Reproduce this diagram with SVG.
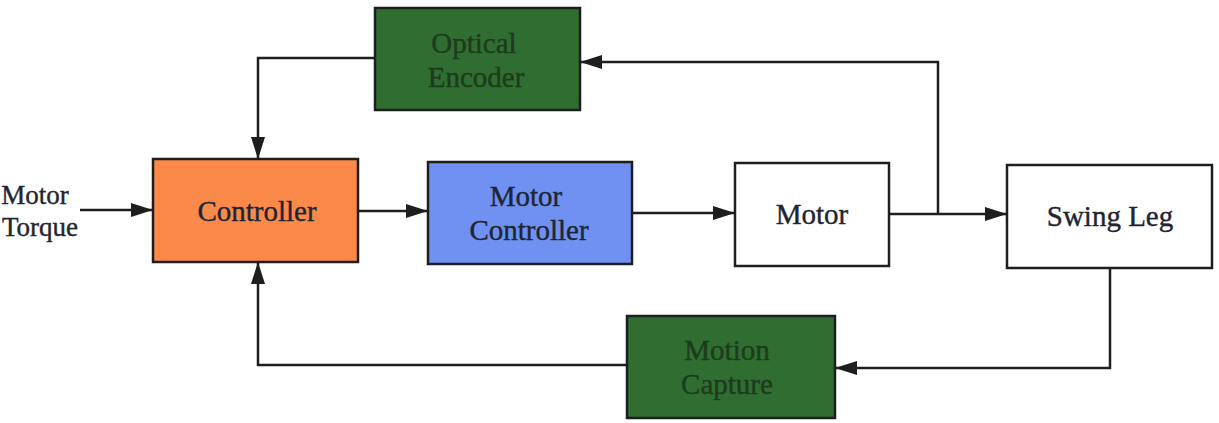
<svg xmlns="http://www.w3.org/2000/svg" width="1219" height="423" viewBox="0 0 1219 423">
<style>
.box{stroke:#1e1e1e;stroke-width:2.5}
.t{font-family:"Liberation Serif","DejaVu Serif",serif;font-size:29px;text-anchor:middle;fill:#1f2633;stroke:#1f2633;stroke-width:0.4}
.s{font-size:27px}
.g{fill:#1d3b1d;stroke:#1d3b1d}
.c{fill:none;stroke:#1e1e1e;stroke-width:2.5}
</style>
<defs>
<marker id="a" viewBox="0 0 22 14" refX="22" refY="7" markerWidth="22" markerHeight="14" markerUnits="userSpaceOnUse" orient="auto">
<path d="M0,0 L22,7 L0,14 z" fill="#1e1e1e"/>
</marker>
</defs>
<rect width="1219" height="423" fill="#ffffff"/>
<g id="connectors">
<path class="c" d="M80,210 H153" marker-end="url(#a)"/>
<path class="c" d="M358,211 H428" marker-end="url(#a)"/>
<path class="c" d="M632,213 H735" marker-end="url(#a)"/>
<path class="c" d="M889,214 H1007" marker-end="url(#a)"/>
<path class="c" d="M938,214 V62 H580" marker-end="url(#a)"/>
<path class="c" d="M375,58 H258 V159" marker-end="url(#a)"/>
<path class="c" d="M1110,268 V368 H835" marker-end="url(#a)"/>
<path class="c" d="M627,365 H258 V262" marker-end="url(#a)"/>
</g>
<g id="input">
<text class="t s" x="35" y="204">Motor</text>
<text class="t s" x="40" y="236">Torque</text>
</g>
<g id="optical-encoder">
<rect class="box" x="375" y="8" width="205" height="102" fill="#2f6e30"/>
<text class="t g" x="474" y="53">Optical</text>
<text class="t g" x="476" y="87">Encoder</text>
</g>
<g id="controller">
<rect class="box" x="153" y="159" width="205" height="103" fill="#fb8a4a"/>
<text class="t" x="257" y="221">Controller</text>
</g>
<g id="motor-controller">
<rect class="box" x="428" y="162" width="204" height="102" fill="#7191f2"/>
<text class="t" x="526" y="206">Motor</text>
<text class="t" x="529" y="240">Controller</text>
</g>
<g id="motor">
<rect class="box" x="735" y="163" width="154" height="103" fill="#ffffff"/>
<text class="t" x="812" y="224">Motor</text>
</g>
<g id="swing-leg">
<rect class="box" x="1007" y="165" width="205" height="103" fill="#ffffff"/>
<text class="t" x="1110" y="226">Swing Leg</text>
</g>
<g id="motion-capture">
<rect class="box" x="627" y="316" width="208" height="102" fill="#2f6e30"/>
<text class="t g" x="727" y="360">Motion</text>
<text class="t g" x="727" y="394">Capture</text>
</g>
</svg>
